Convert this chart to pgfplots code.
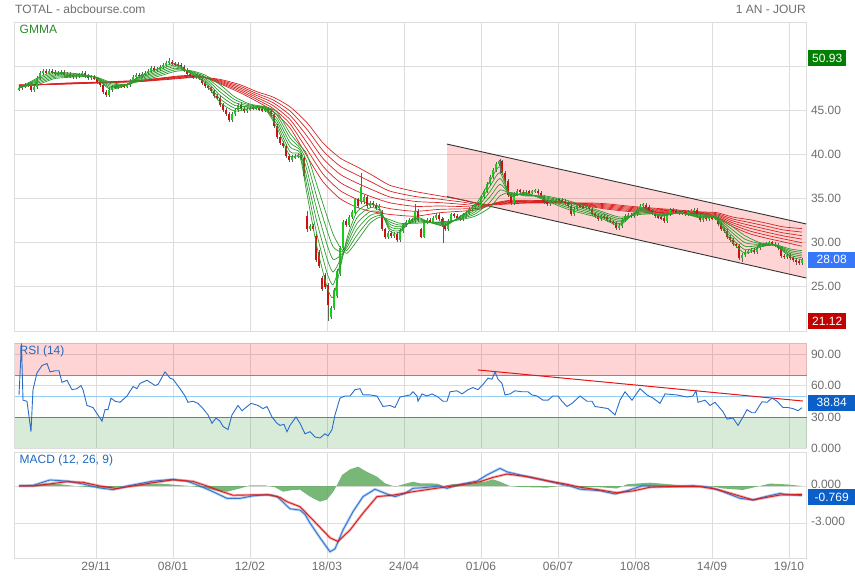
\documentclass[border=0pt]{standalone}
\usepackage{pgfplots}
\usepackage{pgfplotstable}
\pgfplotsset{compat=1.18}
\usepackage{fontspec}
\setmainfont{Liberation Sans}

\definecolor{gridc}{RGB}{221,221,221}
\definecolor{tickc}{RGB}{110,110,110}
\definecolor{upc}{RGB}{25,205,25}
\definecolor{dnc}{RGB}{210,15,15}
\definecolor{wickc}{RGB}{95,95,95}
\definecolor{gmg}{RGB}{45,155,45}
\definecolor{gmr}{RGB}{215,35,35}
\definecolor{rsib}{RGB}{40,110,200}
\definecolor{labb}{RGB}{30,105,195}
\definecolor{histc}{RGB}{95,170,95}
\definecolor{macdb}{RGB}{50,120,215}
\definecolor{macdr}{RGB}{215,30,30}
\definecolor{boxg}{RGB}{0,128,0}
\definecolor{boxr}{RGB}{195,0,0}
\definecolor{boxb}{RGB}{55,120,250}
\definecolor{boxd}{RGB}{10,95,200}

% candles: x (time), open, close
\pgfplotstableread{
x o c
19 47.4 47.5
22 47.5 47.7
25 47.7 47.9
28 47.9 48.0
31 48.0 47.3
34 47.3 47.6
37 47.6 48.7
40 48.7 49.2
43 49.2 49.4
46 49.4 49.3
49 49.3 49.4
52 49.4 49.3
55 49.3 49.1
58 49.1 49.2
61 49.2 49.3
64 49.3 49.0
67 49.0 49.1
70 49.1 48.9
73 48.9 48.8
76 48.8 48.9
79 48.9 49.0
82 49.0 49.2
85 49.2 48.9
88 48.9 48.7
91 48.7 48.8
94 48.8 48.6
97 48.6 48.2
100 48.2 47.9
103 47.9 47.1
106 47.1 46.7
109 46.7 47.3
112 47.3 47.7
115 47.7 47.6
118 47.6 47.7
121 47.7 47.8
124 47.8 47.7
127 47.7 47.9
130 47.9 48.3
133 48.3 48.8
136 48.8 49.0
139 49.0 48.9
142 48.9 49.1
145 49.1 49.2
148 49.2 49.4
151 49.4 49.8
154 49.8 49.6
157 49.6 49.7
160 49.7 49.9
163 49.9 50.1
166 50.1 50.4
169 50.4 50.5
172 50.5 50.3
175 50.3 50.2
178 50.2 50.1
181 50.1 49.9
184 49.9 49.6
187 49.6 49.1
190 49.1 48.9
193 48.9 48.8
196 48.8 48.9
199 48.9 48.6
202 48.6 48.1
205 48.1 47.7
208 47.7 47.5
211 47.5 47.2
214 47.2 46.6
217 46.6 46.4
220 46.4 45.6
223 45.6 45.0
226 45.0 44.6
229 44.6 43.9
232 43.9 44.6
235 44.6 45.0
238 45.0 45.6
241 45.6 45.1
244 45.1 44.9
247 44.9 45.1
250 45.1 45.3
253 45.3 45.2
256 45.2 45.25
259 45.25 45.1
262 45.1 45.0
265 45.0 45.1
268 45.1 44.9
271 44.9 44.5
274 44.5 43.2
277 43.2 42.0
280 42.0 41.3
283 41.3 41.0
286 41.0 39.8
289 39.8 39.4
292 39.4 39.7
295 39.7 39.8
298 39.8 39.9
301 39.9 39.6
304 39.6 37.6
307 33.0 31.5
310 31.5 31.9
313 31.9 31.6
316 30.8 28.0
319 29.0 27.4
322 26.0 24.8
325 26.3 25.0
328 25.2 23.0
331 21.6 22.6
334 22.6 24.7
337 24.0 26.8
340 26.5 29.4
343 29.4 32.3
346 32.5 32.0
349 32.0 32.9
352 32.9 33.5
355 33.4 34.9
358 34.9 34.2
361 34.6 36.3
364 34.6 35.2
367 35.2 34.2
370 34.2 34.5
373 34.5 34.3
376 34.3 33.9
379 33.9 34.2
382 33.5 31.5
385 31.5 30.6
388 30.6 31.1
391 31.1 30.8
394 30.8 31.0
397 31.0 30.3
400 30.3 31.3
403 31.3 32.0
406 32.0 32.3
409 32.3 32.6
412 32.6 32.5
415 32.5 33.6
418 33.6 32.6
421 31.5 30.7
424 30.7 32.3
427 32.3 32.6
430 32.6 32.4
433 32.4 32.8
436 32.8 33.1
439 33.1 32.7
442 32.7 32.0
445 32.0 31.6
448 31.6 32.5
451 32.5 33.2
454 33.2 33.0
457 33.0 32.9
460 32.9 32.7
463 32.7 33.1
466 33.1 33.4
469 33.4 33.8
472 33.8 34.1
475 34.1 34.4
478 34.4 34.3
481 34.3 35.2
484 35.2 35.9
487 35.9 36.6
490 36.6 37.4
493 37.4 38.2
496 38.2 38.9
499 38.9 39.2
502 39.2 37.9
505 37.9 37.0
508 37.0 35.4
511 35.4 34.5
514 34.5 35.5
517 35.5 35.9
520 35.9 35.8
523 35.8 35.6
526 35.6 35.8
529 35.8 35.7
532 35.7 35.8
535 35.8 35.9
538 35.9 35.6
541 35.6 35.2
544 35.2 34.6
547 34.6 34.4
550 34.4 34.6
553 34.6 34.8
556 34.8 34.9
559 34.9 34.8
562 34.8 34.7
565 34.7 34.5
568 34.5 34.2
571 34.2 33.2
574 33.2 33.8
577 33.8 34.3
580 34.3 34.1
583 34.1 34.0
586 34.0 34.1
589 34.1 33.8
592 33.8 33.3
595 33.3 33.0
598 33.0 32.7
601 32.7 33.0
604 33.0 32.9
607 32.9 32.6
610 32.6 32.4
613 32.4 32.2
616 32.2 31.7
619 31.7 31.9
622 31.9 32.6
625 32.6 33.0
628 33.0 33.1
631 33.1 33.0
634 33.0 33.2
637 33.2 33.8
640 33.8 34.2
643 34.2 34.3
646 34.3 34.0
649 34.0 33.6
652 33.6 33.4
655 33.4 33.0
658 33.0 32.9
661 32.9 32.8
664 32.8 32.5
667 32.5 33.3
670 33.3 33.7
673 33.7 33.6
676 33.6 33.5
679 33.5 33.4
682 33.4 33.45
685 33.45 33.3
688 33.3 33.5
691 33.5 33.6
694 33.6 33.7
697 33.7 33.0
700 33.0 32.6
703 32.6 32.8
706 32.8 32.7
709 32.7 32.9
712 32.9 32.8
715 32.8 32.9
718 32.9 32.1
721 32.1 31.6
724 31.6 31.3
727 31.3 30.6
730 30.6 30.3
733 30.3 29.8
736 29.8 29.6
739 29.6 28.3
742 28.3 28.6
745 28.6 28.9
748 28.9 29.1
751 29.1 29.2
754 29.2 28.9
757 28.9 29.4
760 29.4 29.7
763 29.7 29.8
766 29.8 29.9
769 29.9 30.0
772 30.0 29.9
775 29.9 29.7
778 29.7 29.4
781 29.4 28.5
784 28.5 28.4
787 28.4 28.6
790 28.6 28.3
793 28.3 28.0
796 28.0 27.9
799 27.9 27.7
802 27.7 28.08
}\candles

% long wicks: x low high
\pgfplotstableread{
x l h
169 50.2 50.93
307 31.2 33.6
328 21.12 25.4
361 34.5 37.9
415 32.4 34.4
443 30.0 32.8
500 37.8 39.5
742 27.8 28.8
796 27.5 28.2
}\wicks

% GMMA short averages (green)
\pgfplotstableread{
x g1 g2 g3 g4 g5 g6
19 47.50 47.52 47.54 47.56 47.58 47.60
40 48.80 48.64 48.48 48.32 48.16 48.00
55 49.30 49.16 49.02 48.88 48.74 48.60
80 49.10 49.04 48.98 48.92 48.86 48.80
95 48.70 48.72 48.74 48.76 48.78 48.80
110 47.40 47.56 47.72 47.88 48.04 48.20
125 47.80 47.82 47.84 47.86 47.88 47.90
140 48.90 48.78 48.66 48.54 48.42 48.30
160 49.80 49.62 49.44 49.26 49.08 48.90
175 50.30 50.12 49.94 49.76 49.58 49.40
190 49.20 49.26 49.32 49.38 49.44 49.50
205 48.10 48.28 48.46 48.64 48.82 49.00
220 45.90 46.30 46.70 47.10 47.50 47.90
235 44.90 45.22 45.54 45.86 46.18 46.50
250 45.20 45.30 45.40 45.50 45.60 45.70
265 45.10 45.16 45.22 45.28 45.34 45.40
277 43.00 43.36 43.72 44.08 44.44 44.80
290 39.80 40.32 40.84 41.36 41.88 42.40
300 39.70 39.96 40.22 40.48 40.74 41.00
307 35.50 36.40 37.30 38.20 39.10 40.00
317 29.50 30.90 32.30 33.70 35.10 36.50
327 25.00 26.60 28.20 29.80 31.40 33.00
333 23.80 25.24 26.68 28.12 29.56 31.00
340 27.00 27.50 28.00 28.50 29.00 29.50
347 30.50 30.16 29.82 29.48 29.14 28.80
357 33.50 32.84 32.18 31.52 30.86 30.20
370 34.40 33.96 33.52 33.08 32.64 32.20
380 33.80 33.62 33.44 33.26 33.08 32.90
390 31.30 31.56 31.82 32.08 32.34 32.60
400 31.20 31.40 31.60 31.80 32.00 32.20
415 32.90 32.76 32.62 32.48 32.34 32.20
430 32.30 32.30 32.30 32.30 32.30 32.30
445 31.90 32.00 32.10 32.20 32.30 32.40
460 33.00 32.92 32.84 32.76 32.68 32.60
475 34.20 33.96 33.72 33.48 33.24 33.00
490 37.00 36.40 35.80 35.20 34.60 34.00
500 38.60 37.94 37.28 36.62 35.96 35.30
510 35.30 35.38 35.46 35.54 35.62 35.70
525 35.70 35.62 35.54 35.46 35.38 35.30
545 34.80 34.90 35.00 35.10 35.20 35.30
570 33.70 33.90 34.10 34.30 34.50 34.70
600 32.80 32.96 33.12 33.28 33.44 33.60
620 32.00 32.18 32.36 32.54 32.72 32.90
640 33.90 33.76 33.62 33.48 33.34 33.20
660 33.00 33.06 33.12 33.18 33.24 33.30
680 33.40 33.38 33.36 33.34 33.32 33.30
700 32.80 32.88 32.96 33.04 33.12 33.20
715 32.80 32.84 32.88 32.92 32.96 33.00
730 30.40 30.72 31.04 31.36 31.68 32.00
745 28.80 29.20 29.60 30.00 30.40 30.80
760 29.50 29.60 29.70 29.80 29.90 30.00
775 29.70 29.72 29.74 29.76 29.78 29.80
790 28.40 28.58 28.76 28.94 29.12 29.30
802 28.10 28.30 28.50 28.70 28.90 29.10
}\gmmashort

% GMMA long averages (red)
\pgfplotstableread{
x r1 r2 r3 r4 r5 r6
19 47.70 47.74 47.78 47.82 47.86 47.90
60 48.05 48.03 48.01 47.99 47.97 47.95
100 48.20 48.18 48.16 48.14 48.12 48.10
140 48.40 48.37 48.34 48.31 48.28 48.25
180 48.90 48.84 48.78 48.72 48.66 48.60
200 48.90 48.87 48.84 48.81 48.78 48.75
220 48.00 48.10 48.20 48.30 48.40 48.50
240 47.00 47.18 47.36 47.54 47.72 47.90
257 46.00 46.22 46.44 46.66 46.88 47.10
273 44.90 45.22 45.54 45.86 46.18 46.50
290 43.00 43.48 43.96 44.44 44.92 45.40
307 39.80 40.56 41.32 42.08 42.84 43.60
323 36.90 37.78 38.66 39.54 40.42 41.30
340 35.00 35.92 36.84 37.76 38.68 39.60
357 34.00 34.92 35.84 36.76 37.68 38.60
373 33.50 34.32 35.14 35.96 36.78 37.60
390 33.20 33.86 34.52 35.18 35.84 36.50
415 33.00 33.56 34.12 34.68 35.24 35.80
440 33.40 33.78 34.16 34.54 34.92 35.30
465 33.60 33.84 34.08 34.32 34.56 34.80
480 33.80 33.92 34.04 34.16 34.28 34.40
495 34.50 34.46 34.42 34.38 34.34 34.30
510 34.80 34.72 34.64 34.56 34.48 34.40
530 34.80 34.74 34.68 34.62 34.56 34.50
557 34.70 34.66 34.62 34.58 34.54 34.50
590 34.10 34.18 34.26 34.34 34.42 34.50
607 33.80 33.92 34.04 34.16 34.28 34.40
633 33.50 33.62 33.74 33.86 33.98 34.10
667 33.40 33.48 33.56 33.64 33.72 33.80
700 33.20 33.26 33.32 33.38 33.44 33.50
717 32.80 32.92 33.04 33.16 33.28 33.40
733 31.80 32.02 32.24 32.46 32.68 32.90
750 31.00 31.32 31.64 31.96 32.28 32.60
767 30.50 30.84 31.18 31.52 31.86 32.20
783 30.10 30.44 30.78 31.12 31.46 31.80
802 29.60 30.00 30.40 30.80 31.20 31.60
}\gmmalong

\pgfplotstableread{
x rsi
19 51
21.5 100
23 46
27 45
31 16
33 56
37 72
42 79
47 81
50 73
55 74
59 74
62 63
67 65
72 56
77 57
81 60
83 56
87 41
93 39
102 26
105 37
108 37
111 48
115 45
120 44
127 50
133 59
137 57
140 62
147 65
155 60
158 61
165 73
170 67
173 66
180 57
185 50
188 44
193 45
198 43
203 38
208 32
212 24
216 29
220 26
223 21
228 18
232 32
238 41
242 36
251 43
258 41
263 38
267 40
272 30
277 24
280 22
284 23
287 16
290 22
296 30
300 24
305 14
310 16
315 11
320 10
325 14
328 12
332 18
335 32
340 48
345 50
350 50
355 56
360 57
363 51
370 51
377 50
383 40
390 41
395 39
400 49
405 50
410 51
413 54
417 50
418 45
422 52
427 50
432 52
438 49
443 45
447 45
450 54
457 55
462 52
468 56
473 58
478 56
483 61
488 67
492 66
495 73
498 66
502 62
505 51
510 52
515 55
522 54
528 54
532 51
537 50
543 46
548 46
553 50
558 50
562 45
567 40
572 43
580 50
587 45
592 45
595 40
602 39
608 38
615 32
620 46
625 54
632 46
640 57
647 51
653 48
660 43
665 52
677 51
687 49
693 50
696 55
698 44
705 46
710 41
715 44
723 35
727 28
733 29
738 22
743 30
747 37
752 34
755 34
762 44.5
767 44
772 48
777 45
783 39
788 39
793 38
798 36
802 38.84
}\rsidata

\pgfplotstableread{
x m
19 0.02
33 0.05
50 0.49
67 0.40
83 0.16
100 -0.16
113 -0.30
127 0.0
140 0.2
153 0.4
167 0.5
173 0.54
187 0.4
200 0.0
213 -0.46
227 -1.0
240 -1.0
253 -0.8
267 -0.7
277 -0.85
283 -1.3
290 -1.85
300 -1.95
305 -2.3
310 -3.0
320 -4.2
330 -5.33
335 -5.1
343 -3.57
353 -2.08
363 -0.86
375 -0.26
387 -0.65
395 -0.86
405 -0.6
413 -0.19
427 -0.11
440 0.0
447 -0.19
460 0.13
477 0.4
487 0.9
500 1.43
507 1.15
520 0.9
540 0.55
557 0.22
570 0.0
580 -0.26
600 -0.38
615 -0.65
627 -0.38
643 0.03
667 -0.05
693 0.03
710 -0.1
723 -0.46
740 -1.0
753 -1.13
767 -0.83
780 -0.6
790 -0.72
802 -0.77
}\macdline

\pgfplotstableread{
x s
19 0.0
33 0.0
67 0.35
83 0.3
100 0.0
117 -0.2
133 0.0
153 0.27
173 0.5
193 0.38
207 0.0
220 -0.4
233 -0.75
253 -0.72
270 -0.72
280 -0.92
287 -1.27
300 -1.68
313 -2.76
330 -4.2
338 -4.5
350 -3.57
363 -2.2
377 -0.86
393 -0.74
413 -0.46
440 -0.14
460 0.08
480 0.35
493 0.7
507 0.97
527 0.76
547 0.43
567 0.14
580 -0.1
600 -0.32
617 -0.55
633 -0.4
650 -0.1
667 -0.05
700 -0.05
717 -0.27
733 -0.65
753 -1.13
767 -0.92
780 -0.73
802 -0.68
}\signalline

\pgfplotstableread{
x h
19 0
35 0.05
45 0.2
60 0.15
75 0.0
90 -0.1
110 -0.15
125 0.0
140 0.12
160 0.2
175 0.1
190 0.0
205 -0.15
215 -0.35
227 -0.46
240 -0.2
250 0.05
265 0.05
275 -0.1
283 -0.46
293 -0.32
300 -0.3
310 -0.86
320 -1.27
327 -1.1
333 -0.5
337 0.08
342 0.89
350 1.35
358 1.57
367 1.15
377 0.76
385 0.22
395 -0.05
407 0.22
413 0.35
420 0.22
437 0.2
443 0.0
453 0.16
473 0.22
485 0.35
493 0.54
500 0.35
510 0.0
520 -0.08
547 -0.13
563 0.05
580 -0.08
600 -0.1
617 -0.2
627 0.14
640 0.22
650 0.27
667 0.16
690 0.0
710 0.0
723 -0.2
743 -0.32
757 -0.05
770 0.2
787 0.13
802 0.0
}\histdata

\pgfplotsset{
  panel/.style={
    scale only axis, width=792pt, anchor=north west,
    xmin=14.5, xmax=806.5, clip=false,
    axis line style={gridc, line width=0.8pt},
    grid=major, grid style={gridc, line width=0.8pt},
    major tick length=0pt,
    xtick={96,173,250,327,404,481,558,635,712,789},
    xticklabels={},
    yticklabel pos=right,
    yticklabel style={text=tickc, anchor=west, xshift=1pt},
    xticklabel style={text=tickc},
  },
  candle/.style={draw=none, no markers, forget plot,
    error bars/y dir=both, error bars/y explicit, error bars/error mark=none},
}
\tikzset{valbox/.style={anchor=west, text=white, minimum height=16pt, inner sep=0pt, xshift=1.5pt}}

\begin{document}
\begin{tikzpicture}[font=\fontsize{12}{14}\selectfont]
\useasboundingbox (0,0) rectangle (855pt,-580pt);
\node[anchor=west, text=tickc, inner sep=0pt] at (15pt,-9pt) {TOTAL - abcbourse.com};
\node[anchor=east, text=tickc, inner sep=0pt] at (806pt,-9pt) {1 AN - JOUR};

% price panel
\begin{axis}[panel, at={(14.5pt,-22pt)}, height=309pt,
  ymin=20, ymax=55, ytick={20,25,30,35,40,45,50},
  yticklabels={{},25.00,30.00,35.00,40.00,45.00,{}}]
\addplot[fill=red, fill opacity=0.17, draw=none, forget plot]
  coordinates {(447,41.17) (806,32.13) (806,26.01) (447,35.23)} -- cycle;
\addplot[black!80, line width=0.9pt] coordinates {(447,41.17) (806,32.13)};
\addplot[black!80, line width=0.9pt] coordinates {(447,35.23) (806,26.01)};
\foreach \c in {r1,r2,r3,r4,r5,r6}{
  \addplot[gmr, line width=0.7pt, smooth, tension=0.4] table[x=x, y=\c] {\gmmalong};
}
\addplot[candle, error bars/error bar style={draw=wickc, line width=0.8pt}]
  table[x=x, y expr={(\thisrow{o}+\thisrow{c})/2}, y error expr={abs(\thisrow{c}-\thisrow{o})/2+0.22}] {\candles};
\addplot[candle, error bars/error bar style={draw=wickc, line width=0.8pt}]
  table[x=x, y expr={(\thisrow{l}+\thisrow{h})/2}, y error expr={(\thisrow{h}-\thisrow{l})/2}] {\wicks};
\addplot[candle, restrict expr to domain={\thisrow{c}-\thisrow{o}}{0:100},
  error bars/error bar style={draw=upc, line width=2.2pt}]
  table[x=x, y expr={(\thisrow{o}+\thisrow{c})/2}, y error expr={max(abs(\thisrow{c}-\thisrow{o})/2,0.08)}] {\candles};
\addplot[candle, restrict expr to domain={\thisrow{c}-\thisrow{o}}{-100:-0.001},
  error bars/error bar style={draw=dnc, line width=2.2pt}]
  table[x=x, y expr={(\thisrow{o}+\thisrow{c})/2}, y error expr={max(abs(\thisrow{c}-\thisrow{o})/2,0.08)}] {\candles};
\foreach \c in {g1,g2,g3,g4,g5,g6}{
  \addplot[gmg, line width=0.7pt, smooth, tension=0.4] table[x=x, y=\c] {\gmmashort};
}
\node[anchor=north west, text=gmg!90!black, inner sep=0pt] at (rel axis cs:0,1) [xshift=5pt, yshift=-3pt] {GMMA};
\node[valbox, fill=boxg, minimum width=38pt] at (axis cs:806.5,50.93) {50.93};
\node[valbox, fill=boxb, minimum width=47pt] at (axis cs:806.5,28.08) {28.08};
\node[valbox, fill=boxr, minimum width=38pt] at (axis cs:806.5,21.12) {21.12};
\end{axis}

% RSI panel
\begin{axis}[panel, at={(14.5pt,-343.5pt)}, height=105pt,
  ymin=0, ymax=100, ytick={0,30,60,90},
  yticklabels={0.000,30.00,60.00,90.00}]
\addplot[fill=red, fill opacity=0.17, draw=none]
  coordinates {(14.5,70) (806.5,70) (806.5,100) (14.5,100)} -- cycle;
\addplot[fill={rgb,255:red,60;green,150;blue,60}, fill opacity=0.2, draw=none]
  coordinates {(14.5,0) (806.5,0) (806.5,30) (14.5,30)} -- cycle;
\addplot[draw={rgb,255:red,235;green,95;blue,95}, line width=0.8pt] coordinates {(14.5,70) (806.5,70)};
\addplot[draw={rgb,255:red,150;green,205;blue,245}, line width=0.9pt] coordinates {(14.5,50) (806.5,50)};
\addplot[draw={rgb,255:red,85;green,150;blue,85}, line width=0.8pt] coordinates {(14.5,30) (806.5,30)};
\addplot[draw={rgb,255:red,230;green,20;blue,20}, line width=1pt] coordinates {(478,74.8) (803,45.2)};
\addplot[rsib, line width=0.9pt] table[x=x, y=rsi] {\rsidata};
\node[anchor=north west, text=labb, inner sep=0pt] at (rel axis cs:0,1) [xshift=5pt, yshift=-2pt] {RSI (14)};
\node[valbox, fill=boxd, minimum width=47pt] at (axis cs:806.5,38.84) [yshift=5pt] {38.84};
\end{axis}

% MACD panel
\begin{axis}[panel, at={(14.5pt,-452pt)}, height=106pt,
  ymin=-5.84, ymax=2.76, ytick={-3,0},
  yticklabels={-3.000,0.000},
  yticklabel style={yshift=2pt},
  xticklabels={29/11,08/01,12/02,18/03,24/04,01/06,06/07,10/08,14/09,19/10}]
\addplot[fill=histc, fill opacity=0.85, draw=none] table[x=x, y=h] {\histdata} \closedcycle;
\addplot[macdb, opacity=0.35, line width=2.6pt] table[x=x, y=m] {\macdline};
\addplot[macdb, line width=0.9pt] table[x=x, y=m] {\macdline};
\addplot[macdr, opacity=0.35, line width=2.6pt] table[x=x, y=s] {\signalline};
\addplot[macdr, line width=0.9pt] table[x=x, y=s] {\signalline};
\node[anchor=north west, text=labb, inner sep=0pt] at (rel axis cs:0,1) [xshift=5pt, yshift=-3pt] {MACD (12, 26, 9)};
\node[valbox, fill=boxd, minimum width=47pt] at (axis cs:806.5,-0.769) [yshift=-2pt] {-0.769};
\end{axis}
\end{tikzpicture}
\end{document}
